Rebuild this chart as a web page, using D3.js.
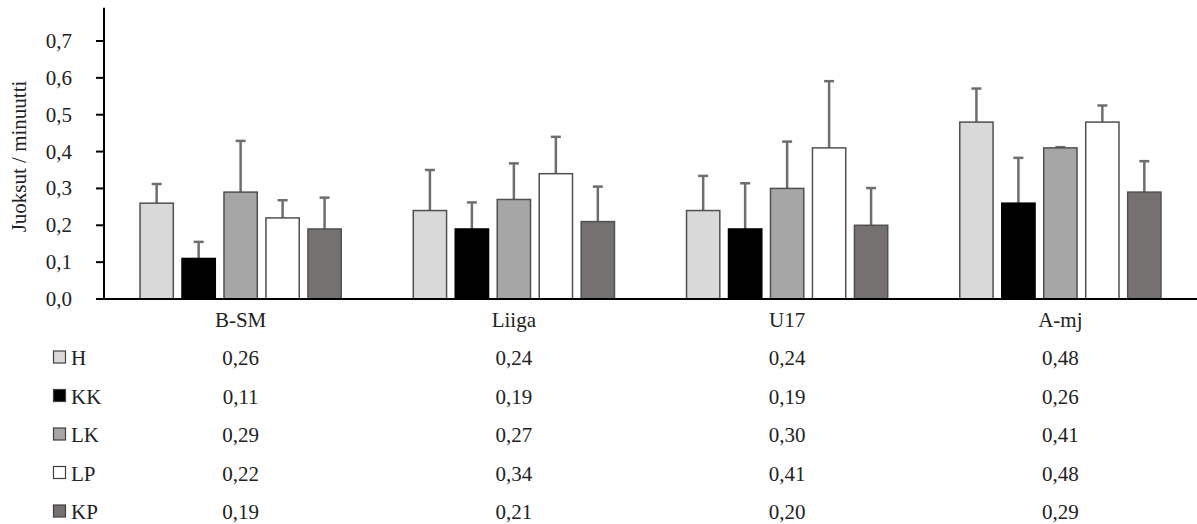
<!DOCTYPE html>
<html>
<head>
<meta charset="utf-8">
<script src="https://cdn.jsdelivr.net/npm/d3@7"></script>
<style>
  body { margin: 0; background: #fff; }
</style>
</head>
<body>
<script>
// --- data ---
const categories = ["B-SM", "Liiga", "U17", "A-mj"];
const seriesNames = ["H", "KK", "LK", "LP", "KP"];

// means per series, one value per category (same as the data table)
const valH  = [0.26, 0.24, 0.24, 0.48];
const valKK = [0.11, 0.19, 0.19, 0.26];
const valLK = [0.29, 0.27, 0.30, 0.41];
const valLP = [0.22, 0.34, 0.41, 0.48];
const valKP = [0.19, 0.21, 0.20, 0.29];

// upper error bars (sd), estimated from the whiskers
const errH  = [0.052, 0.110, 0.094, 0.091];
const errKK = [0.045, 0.072, 0.124, 0.123];
const errLK = [0.139, 0.098, 0.127, 0.002];
const errLP = [0.048, 0.100, 0.181, 0.045];
const errKP = [0.085, 0.095, 0.101, 0.084];

const yTicks = [0, 0.1, 0.2, 0.3, 0.4, 0.5, 0.6, 0.7];
const yTitle = "Juoksut / minuutti";

const fills = ["#d9d9d9", "#000000", "#a6a6a6", "#ffffff", "#767171"];

const values = [valH, valKK, valLK, valLP, valKP];
const errors = [errH, errKK, errLK, errLP, errKP];

// --- layout ---
const W = 1197, H = 524;
const plotLeft = 104, plotRight = 1197, baseY = 299;
const FONT = "'Liberation Serif', 'DejaVu Serif', serif";

const svg = d3.select("body").append("svg")
    .attr("width", W).attr("height", H)
    .attr("font-family", FONT)
    .style("font-family", FONT);

const x0 = d3.scaleBand().domain(categories).range([plotLeft, plotRight]);
const x1 = d3.scaleBand().domain(seriesNames).range([-100.6, 100.6]).paddingInner(0.207);
const y = d3.scaleLinear().domain([0, 0.7]).range([baseY, 41]);
const axisTop = 0.79; // the value axis line runs a bit above the last tick

const fmt = v => d3.format(".1f")(v).replace(".", ",");
const fmt2 = v => d3.format(".2f")(v).replace(".", ",");
const cx = d => x0(d.c) + x0.bandwidth() / 2 + x1(d.s) + x1.bandwidth() / 2;

// rows of (category, series) for the bars
const rows = [];
seriesNames.forEach((s, i) => {
    categories.forEach((c, j) => {
        rows.push({ s, c, i, v: values[i][j], e: errors[i][j] });
    });
});

// error bars first (drawn behind the bar tops)
const eb = svg.append("g").attr("class", "errorbars")
    .attr("stroke", "#6e6e6e").attr("stroke-width", 2.5);
eb.selectAll("line.whisker").data(rows).enter().append("line")
    .attr("x1", cx).attr("x2", cx)
    .attr("y1", d => y(d.v))
    .attr("y2", d => y(d.v + d.e));
eb.selectAll("line.cap").data(rows).enter().append("line")
    .attr("x1", d => cx(d) - 5)
    .attr("x2", d => cx(d) + 5)
    .attr("y1", d => y(d.v + d.e))
    .attr("y2", d => y(d.v + d.e));

svg.append("g").attr("class", "bars")
    .selectAll("rect").data(rows).enter().append("rect")
    .attr("x", d => x0(d.c) + x0.bandwidth() / 2 + x1(d.s))
    .attr("y", d => y(d.v))
    .attr("width", x1.bandwidth())
    .attr("height", d => baseY - y(d.v))
    .attr("fill", d => fills[d.i])
    .attr("stroke", d => d.i === 1 ? "#000" : "#505050")
    .attr("stroke-width", 1.5);

// value axis
const yAxisG = svg.append("g").attr("transform", `translate(${plotLeft},0)`);
yAxisG.append("line")
    .attr("x1", 0).attr("x2", 0)
    .attr("y1", y(axisTop)).attr("y2", baseY + 1)
    .attr("stroke", "#000").attr("stroke-width", 2);
yAxisG.selectAll("line.tick").data(yTicks).enter().append("line")
    .attr("x1", -8).attr("x2", 0)
    .attr("y1", d => y(d)).attr("y2", d => y(d))
    .attr("stroke", "#000").attr("stroke-width", 2);
yAxisG.selectAll("text.tick").data(yTicks).enter().append("text")
    .attr("x", -32).attr("y", d => y(d))
    .attr("dy", "0.33em")
    .attr("text-anchor", "end")
    .attr("fill", "#222")
    .style("font-size", "21px")
    .text(fmt);

svg.append("text")
    .attr("transform", `translate(26,${(78 + 235) / 2}) rotate(-90)`)
    .attr("text-anchor", "middle")
    .attr("fill", "#222")
    .style("font-size", "21px")
    .text(yTitle);

// category axis
svg.append("line")
    .attr("x1", plotLeft - 8).attr("x2", plotRight)
    .attr("y1", baseY).attr("y2", baseY)
    .attr("stroke", "#000").attr("stroke-width", 2);

svg.selectAll("text.cat").data(categories).enter().append("text")
    .attr("x", d => x0(d) + x0.bandwidth() / 2)
    .attr("y", 327)
    .attr("text-anchor", "middle")
    .attr("fill", "#222")
    .style("font-size", "21px")
    .text(d => d);

// data table under the chart
const rowY = d3.scalePoint().domain(seriesNames).range([365, 519]);

const legend = svg.selectAll("g.legend").data(seriesNames).enter().append("g")
    .attr("transform", d => `translate(0,${rowY(d)})`);
legend.append("rect")
    .attr("x", 53.5).attr("y", -14)
    .attr("width", 12).attr("height", 12)
    .attr("fill", (d, i) => fills[i])
    .attr("stroke", "#404040").attr("stroke-width", 1.2);
legend.append("text")
    .attr("x", 71).attr("y", 0)
    .attr("fill", "#222")
    .style("font-size", "21px")
    .text(d => d);

seriesNames.forEach((s, i) => {
    svg.selectAll(`text.val-${s}`).data(values[i]).enter().append("text")
        .attr("x", (d, j) => x0(categories[j]) + x0.bandwidth() / 2)
        .attr("y", rowY(s))
        .attr("text-anchor", "middle")
        .attr("fill", "#222")
        .style("font-size", "21px")
        .text(fmt2);
});
</script>
</body>
</html>
